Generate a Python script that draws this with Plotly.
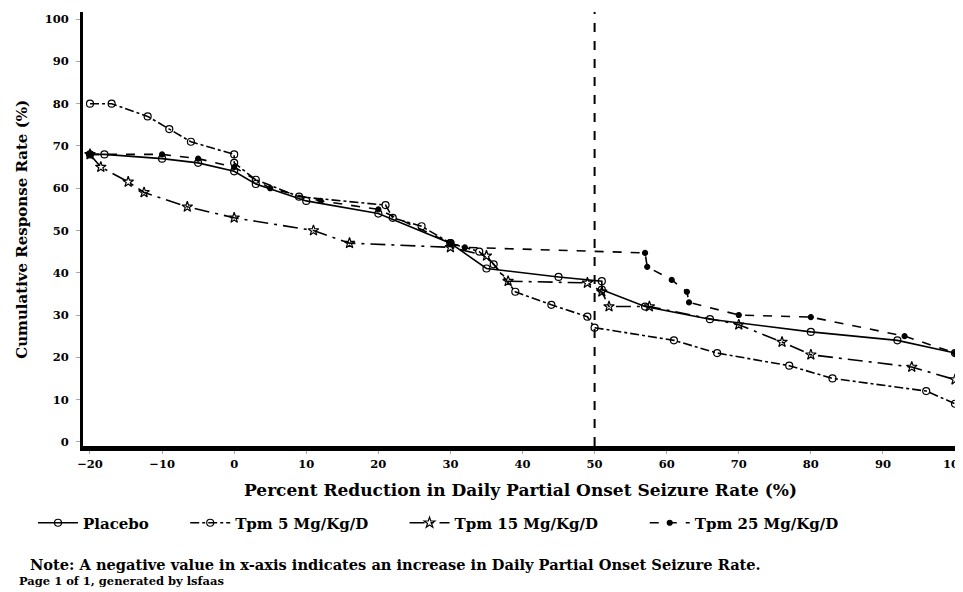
import plotly.graph_objects as go

# ---- data ----
placebo_x = [-20, -18, -10, -5, 0, 3, 10, 20, 30, 35, 45, 51, 51, 57, 66, 80, 92, 100]
placebo_y = [68, 68, 67, 66, 64, 61, 57, 54, 47, 41, 39, 38, 36, 32, 29, 26, 24, 21]

tpm5_x = [-20, -17, -12, -9, -6, 0, 0, 3, 9, 21, 22, 26, 30, 34, 36, 39, 44, 49, 50, 61, 67, 77, 83, 96, 100]
tpm5_y = [80, 80, 77, 74, 71, 68, 66, 62, 58, 56, 53, 51, 47, 45, 42, 35.5, 32.4, 29.6, 27, 24, 21, 18, 15, 12, 9]

tpm15_x = [-20, -18.5, -14.7, -12.5, -6.5, 0, 11, 16, 30, 35, 38, 49, 51, 52, 57.6, 70, 76, 80, 94, 100]
tpm15_y = [68, 65, 61.5, 59, 55.6, 53, 50, 47, 46, 44, 38, 37.6, 35.5, 32, 32, 27.7, 23.6, 20.6, 17.7, 14.7]

tpm25_x = [-20, -10, -5, 0, 5, 12, 20, 30, 32, 57, 57.3, 60.7, 62.8, 63.1, 70, 80, 93, 100]
tpm25_y = [68, 68, 67, 65, 60, 57, 55, 47, 46, 44.7, 41.4, 38.3, 35.5, 33, 30, 29.5, 25, 21]

series_names = ["Placebo", "Tpm 5 Mg/Kg/D", "Tpm 15 Mg/Kg/D", "Tpm 25 Mg/Kg/D"]

x_ticks = [-20, -10, 0, 10, 20, 30, 40, 50, 60, 70, 80, 90, 100]
y_ticks = [0, 10, 20, 30, 40, 50, 60, 70, 80, 90, 100]
ref_x = 50

FONT = "DejaVu Serif"
NB = "\u00a0"

# the page body has an 8px margin: work in screen pixels and shift
OFF = 8
W, H = 963 - OFF, 592 - OFF
L, R, T, B = 83 - OFF, 959 - OFF, 12 - OFF, 446.4 - OFF
PW, PH = R - L, B - T

fig = go.Figure()

styles = [
    dict(dash="solid", symbol="circle-open", size=7),
    dict(dash="dashdot", symbol="circle-open", size=7),
    dict(dash="longdashdot", symbol="star-open", size=8),
    dict(dash="dash", symbol="circle", size=5),
]
pads = [6, 6, 8, 0]
data = [(placebo_x, placebo_y), (tpm5_x, tpm5_y), (tpm15_x, tpm15_y), (tpm25_x, tpm25_y)]

for (xs, ys), name, st, pad in zip(data, series_names, styles, pads):
    fig.add_trace(go.Scatter(
        x=xs, y=ys, name=name + NB * pad, mode="lines+markers",
        line=dict(color="black", width=1.6, dash=st["dash"]),
        marker=dict(symbol=st["symbol"], size=st["size"], color="black",
                    line=dict(color="black", width=1.2)),
    ))

fig.add_shape(type="line", x0=ref_x, x1=ref_x, y0=0, y1=1, xref="x", yref="paper",
              line=dict(color="black", width=2, dash="dash"))

fig.update_layout(
    width=W, height=H,
    margin=dict(l=L, r=W - R, t=T, b=H - B, autoexpand=False),
    plot_bgcolor="white", paper_bgcolor="white",
    font=dict(family=FONT, color="black", size=13, weight="bold"),
    xaxis=dict(range=[-20.97, 100.55], tickvals=x_ticks, showgrid=False, zeroline=False,
               showline=True, linecolor="black", linewidth=5,
               ticks="outside", ticklen=3, tickcolor="#aaa", tickwidth=1,
               ticklabeloverflow="allow",
               tickfont=dict(family=FONT, size=11.5, weight="bold")),
    yaxis=dict(range=[-1, 101.7], tickvals=y_ticks, showgrid=False, zeroline=False,
               showline=True, linecolor="black", linewidth=3,
               ticks="outside", ticklen=4, tickcolor="#aaa", tickwidth=1,
               ticklabelstandoff=5,
               tickfont=dict(family=FONT, size=11.5, weight="bold")),
    showlegend=True,
    legend=dict(orientation="h", xref="container", yref="container",
                x=(33 - OFF) / W, y=1 - (523 - OFF) / H, yanchor="middle", xanchor="left",
                font=dict(family=FONT, size=15, weight="bold"),
                itemwidth=40, traceorder="normal"),
)


def px(xs):
    return (xs - OFF - L) / PW


def py(ys):
    return (B - (ys - OFF)) / PH


fig.add_annotation(text="Percent Reduction in Daily Partial Onset Seizure Rate (%)",
                   xref="paper", yref="paper", x=px(520), y=py(490),
                   showarrow=False, font=dict(family=FONT, size=17, weight="bold"),
                   xanchor="center", yanchor="middle")
fig.add_annotation(text="Cumulative Response Rate (%)", textangle=-90,
                   xref="paper", yref="paper", x=px(22), y=py(230),
                   showarrow=False, font=dict(family=FONT, size=15, weight="bold"),
                   xanchor="center", yanchor="middle")
fig.add_annotation(text="Note: A negative value in x-axis indicates an increase in Daily Partial Onset Seizure Rate.",
                   xref="paper", yref="paper", x=px(28), y=py(565),
                   showarrow=False, font=dict(family=FONT, size=14.6, weight="bold"),
                   xanchor="left", yanchor="middle")
fig.add_annotation(text="Page 1 of 1, generated by lsfaas",
                   xref="paper", yref="paper", x=px(17), y=py(582),
                   showarrow=False, font=dict(family=FONT, size=11.5, weight="bold"),
                   xanchor="left", yanchor="middle")

fig.write_html("out.html")
